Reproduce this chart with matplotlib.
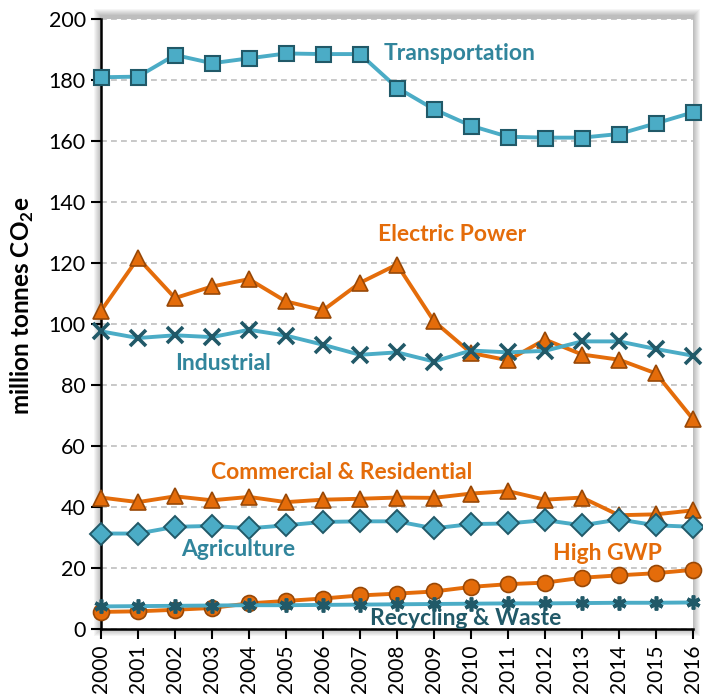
import matplotlib
matplotlib.use('Agg')
import matplotlib.pyplot as plt
from matplotlib.patches import Rectangle

years = [2000, 2001, 2002, 2003, 2004, 2005, 2006, 2007, 2008,
         2009, 2010, 2011, 2012, 2013, 2014, 2015, 2016]
transportation = [180.9, 181.1, 188.2, 185.5, 187.1, 188.7, 188.5, 188.5, 177.5,
                  170.4, 165.0, 161.4, 161.1, 161.1, 162.3, 165.8, 169.4]
electric_power = [104.3, 121.6, 108.5, 112.3, 114.7, 107.4, 104.5, 113.5, 119.5,
                  100.9, 90.5, 88.1, 94.9, 90.0, 88.3, 83.8, 68.8]
industrial = [97.6, 95.4, 96.3, 95.7, 98.1, 96.2, 93.2, 89.9, 90.7,
              87.7, 91.3, 90.7, 91.2, 94.3, 94.3, 91.8, 89.6]
commercial_residential = [43.1, 41.6, 43.5, 42.2, 43.3, 41.6, 42.4, 42.7, 43.1,
                          43.0, 44.4, 45.2, 42.4, 43.1, 37.3, 37.6, 38.9]
agriculture = [31.3, 31.3, 33.5, 33.8, 33.0, 34.0, 35.1, 35.3, 35.3,
               33.0, 34.4, 34.6, 35.7, 34.0, 35.9, 34.0, 33.5]
high_gwp = [5.6, 5.8, 6.3, 6.9, 8.4, 9.2, 10.0, 11.0, 11.6,
            12.3, 13.8, 14.7, 15.2, 16.8, 17.6, 18.3, 19.4]
recycling_waste = [7.4, 7.5, 7.6, 7.7, 7.8, 7.8, 7.9, 8.0, 8.1,
                   8.2, 8.3, 8.4, 8.4, 8.5, 8.6, 8.6, 8.7]
y_ticks = [0, 20, 40, 60, 80, 100, 120, 140, 160, 180, 200]

TEAL = '#4BACC6'
TEAL_DARK = '#215968'
TEAL_TEXT = '#31859C'
ORANGE = '#E46C0A'
ORANGE_DARK = '#984807'

plt.rcParams['font.family'] = ['Lato', 'DejaVu Sans']
plt.rcParams['mathtext.fontset'] = 'custom'
plt.rcParams['mathtext.rm'] = 'Lato'
plt.rcParams['mathtext.bf'] = 'Lato:bold'

fig = plt.figure(figsize=(7.03, 6.94), dpi=100)
L, R, B, T = 101 / 703, 693 / 703, 1 - 629 / 694, 1 - 19 / 694
ax = fig.add_axes([L, B, R - L, T - B])
ax.set_zorder(2)
ax.set_facecolor('white')

# soft shadow around the plot area (drawn behind the axes)
W, H = 703, 694
for i in range(7, 0, -1):
    fig.patches.append(Rectangle(((101 - i) / W, (65 - i) / H), (592 + 2 * i) / W,
                                 (610 + 2 * i + 3) / H, transform=fig.transFigure,
                                 facecolor='#000000', alpha=0.04, edgecolor='none',
                                 zorder=-5))

lw = 2.8
# orange series
ax.plot(years, electric_power, color=ORANGE, lw=lw, marker='^', ms=11.5,
        mfc=ORANGE, mec=ORANGE_DARK, mew=1.2, clip_on=False, zorder=3)
ax.plot(years, commercial_residential, color=ORANGE, lw=lw, marker='^', ms=11.5,
        mfc=ORANGE, mec=ORANGE_DARK, mew=1.2, clip_on=False, zorder=3)
ax.plot(years, high_gwp, color=ORANGE, lw=lw, marker='o', ms=11.5,
        mfc=ORANGE, mec=ORANGE_DARK, mew=1.2, clip_on=False, zorder=3)
# teal series
ax.plot(years, transportation, color=TEAL, lw=lw, marker='s', ms=10.8,
        mfc=TEAL, mec=TEAL_DARK, mew=1.5, clip_on=False, zorder=4)
ax.plot(years, industrial, color=TEAL, lw=lw, marker='x', ms=11,
        mfc=TEAL_DARK, mec=TEAL_DARK, mew=2.6, clip_on=False, zorder=4)
ax.plot(years, agriculture, color=TEAL, lw=lw, marker='D', ms=11.5,
        mfc=TEAL, mec=TEAL_DARK, mew=1.4, clip_on=False, zorder=4)
ax.plot(years, recycling_waste, color=TEAL, lw=lw, marker=(6, 2, 0), ms=10,
        mfc=TEAL_DARK, mec=TEAL_DARK, mew=2.6, clip_on=False, zorder=4)

ax.set_xlim(years[0], years[-1])
ax.set_ylim(y_ticks[0], y_ticks[-1])
ax.set_xticks(years)
ax.set_xticklabels([str(y) for y in years], rotation=90, fontsize=15)
ax.set_yticks(y_ticks)
ax.set_yticklabels([str(v) for v in y_ticks], fontsize=15.5)
ax.tick_params(axis='both', direction='out', length=7, width=1.5, color='black',
               pad=4)
ax.grid(axis='y', color='#BFBFBF', linestyle=(0, (3.5, 2.5)), lw=1.2)
ax.set_axisbelow(True)
for s in ['top', 'right']:
    ax.spines[s].set_visible(False)
for s in ['left', 'bottom']:
    ax.spines[s].set_color('black')
    ax.spines[s].set_linewidth(1.8)

lab = dict(fontsize=16.5, fontweight='bold', ha='center', va='center',
           clip_on=False, zorder=6)
ax.text(2009.7, 188.8, 'Transportation', color=TEAL_TEXT, **lab)
ax.text(2009.5, 129.3, 'Electric Power', color=ORANGE, **lab)
ax.text(2003.3, 87.0, 'Industrial', color=TEAL_TEXT, **lab)
ax.text(2006.5, 51.2, 'Commercial & Residential', color=ORANGE, **lab)
ax.text(2003.7, 26.1, 'Agriculture', color=TEAL_TEXT, **lab)
ax.text(2013.7, 24.8, 'High GWP', color=ORANGE, **lab)
ax.text(2009.86, 3.3, 'Recycling & Waste', color=TEAL_DARK, **lab)

fig.text(22 / W, 1 - 306 / H, r'million tonnes CO$_\mathbf{2}$e', rotation=90,
         fontsize=17.5, fontweight='bold', ha='center', va='center')

fig.savefig('out.png', dpi=100)
